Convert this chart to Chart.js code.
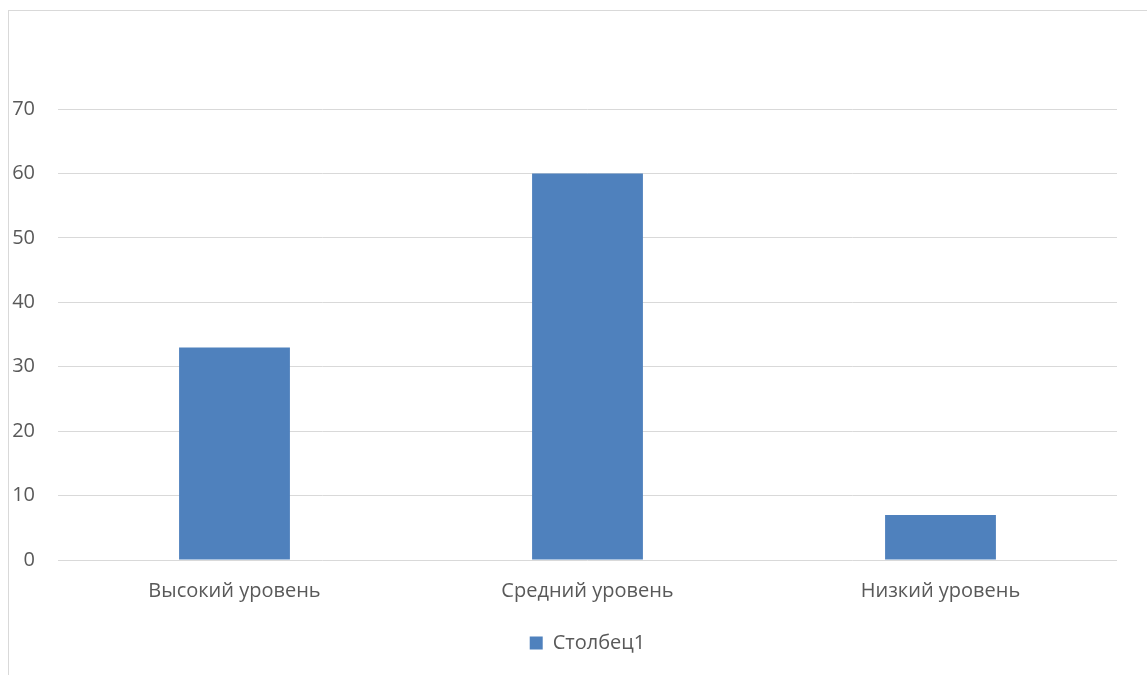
<!DOCTYPE html>
<html>
<head>
<meta charset="utf-8">
<script src="https://cdn.jsdelivr.net/npm/chart.js@4"></script>
<style>
  html, body { margin: 0; padding: 0; background: #fff; overflow: hidden; }
  #frame { position: absolute; left: 8px; top: 10px; width: 1200px; height: 700px; border: 1px solid #d9d9d9; box-sizing: border-box; }
  #wrap { position: absolute; left: 0; top: 0; width: 1147px; height: 675px; }
</style>
</head>
<body>
<div id="frame"></div>
<div id="wrap"><canvas id="chart"></canvas></div>
<script>
// данные
const categories = ['Высокий уровень', 'Средний уровень', 'Низкий уровень'];
const seriesName = 'Столбец1';
const values = [33, 60, 7];

const textFont = { family: 'Open Sans', size: 20 };

// легенда по центру области построения, а не всего холста
const legendShift = {
    id: 'legendShift',
    afterLayout: function (chart) {
        if (chart.legend) {
            chart.legend.left = chart.chartArea.left;
        }
    }
};

const ctx = document.getElementById('chart').getContext('2d');
const chart = new Chart(ctx, {
    type: 'bar',
    data: {
        labels: categories,
        datasets: [
            {
                label: seriesName,
                data: values,
                backgroundColor: '#4f81bd',
                borderWidth: 0,
                barPercentage: 0.314,
                categoryPercentage: 1
            }
        ]
    },
    options: {
        responsive: true,
        maintainAspectRatio: false,
        animation: false,
        layout: {
            padding: { top: 109, right: 30, bottom: 12, left: 0 }
        },
        plugins: {
            tooltip: { enabled: false },
            legend: {
                position: 'bottom',
                labels: {
                    color: '#595959',
                    font: textFont,
                    boxWidth: 13,
                    boxHeight: 13,
                    padding: 9
                }
            }
        },
        scales: {
            x: {
                grid: { display: false },
                border: { display: false },
                ticks: {
                    color: '#595959',
                    font: textFont,
                    padding: 11
                },
                afterFit: function (axis) { axis.height = 64; }
            },
            y: {
                min: 0,
                max: 70,
                ticks: {
                    stepSize: 10,
                    color: '#595959',
                    font: textFont,
                    padding: 23
                },
                grid: { color: '#d9d9d9', lineWidth: 1, drawTicks: false },
                border: { display: false },
                afterFit: function (axis) { axis.width = 58; }
            }
        }
    },
    plugins: [legendShift]
});
</script>
</body>
</html>
